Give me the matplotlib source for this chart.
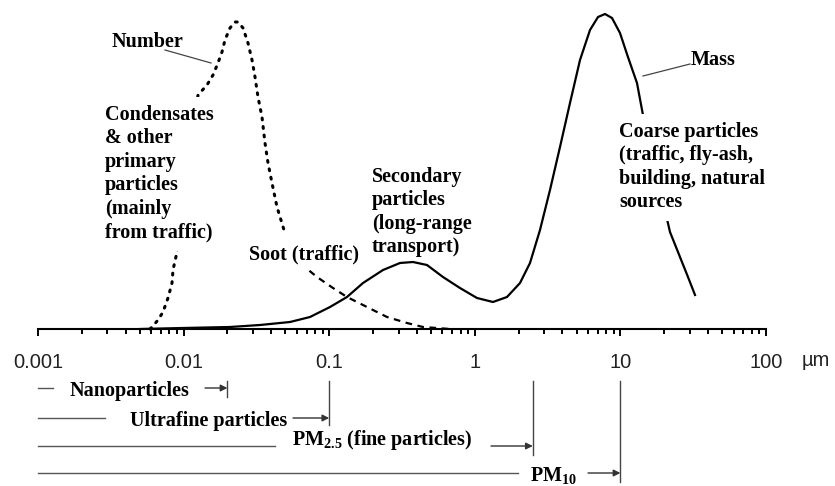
import matplotlib
matplotlib.use('Agg')
import matplotlib.pyplot as plt
import matplotlib.transforms as mtransforms
from matplotlib.lines import Line2D
from matplotlib.ticker import LogLocator, FixedLocator, FixedFormatter, NullFormatter

# Mass distribution (solid line): particle diameter (um) and relative height
mass_d = [0.00502, 0.00991, 0.0208, 0.0335, 0.0538, 0.0738, 0.1013, 0.1325, 0.1707, 0.2342,
          0.3063, 0.3762, 0.4694, 0.6046, 0.791, 1.035, 1.333, 1.664, 2.044, 2.394,
          2.804, 3.284, 3.847, 4.506, 5.279, 6.183, 7.018, 7.841, 8.757, 9.936,
          11.27, 13.00, 14.29, 21.91, 25.66, 29.12, 32.54]
mass_h = [0, 1, 2, 4, 7, 12, 22, 32, 46, 59,
          66, 67, 64, 52, 41, 31, 27, 32, 46, 66,
          99, 139, 182, 226, 269, 299, 312, 315, 311, 296,
          272, 246, 214, 97, 72, 52, 34]

# Number distribution, dotted part (up to the soot label)
num_dot_d = [0.005878, 0.006067, 0.006672, 0.007219, 0.007811, 0.008324, 0.008458, 0.009010,
             0.01256, 0.01448, 0.01592, 0.01722, 0.01835, 0.01924, 0.02083, 0.02254,
             0.02363, 0.02559, 0.02769, 0.02950, 0.03094, 0.03243, 0.03455, 0.03623,
             0.03800, 0.04047, 0.04381, 0.04893]
num_dot_h = [0, 2, 9, 17, 31, 46, 59, 77,
             234, 244, 254, 266, 277, 289, 301, 307,
             307, 301, 286, 269, 252, 232, 212, 186,
             166, 146, 122, 99]

# Number distribution, dashed tail (after the soot label)
num_dash_d = [0.06302, 0.08245, 0.1062, 0.1325, 0.1818, 0.2495, 0.3422, 0.4407, 0.6757]
num_dash_h = [66, 52, 41, 32, 22, 12, 6, 2, 0]

tick_values = [0.001, 0.01, 0.1, 1, 10, 100]
tick_labels = ['0.001', '0.01', '0.1', '1', '10', '100']

size_classes = ['Nanoparticles', 'Ultrafine particles',
                'PM$_{2.5}$ (fine particles)', 'PM$_{10}$']
size_cutoffs = [0.02, 0.1, 2.5, 10]

W, H = 835, 486
SERIF = dict(family='Liberation Serif', fontweight='bold', fontsize=14.5, color='black')

plt.rcParams['mathtext.default'] = 'regular'

fig = plt.figure(figsize=(W / 100, H / 100), dpi=100)
fig.patch.set_facecolor('white')

ax = fig.add_axes([38 / W, (H - 329) / H, 728 / W, 329 / H])
ax.set_xscale('log')
ax.set_xlim(0.001, 100)
ax.set_ylim(0, 329)
for s in ('top', 'left', 'right'):
    ax.spines[s].set_visible(False)
ax.spines['bottom'].set_linewidth(1.5)
ax.set_yticks([])
ax.patch.set_alpha(0)

ax.xaxis.set_major_locator(FixedLocator(tick_values))
ax.xaxis.set_major_formatter(FixedFormatter(tick_labels))
ax.xaxis.set_minor_locator(LogLocator(base=10, subs=range(2, 10), numticks=20))
ax.xaxis.set_minor_formatter(NullFormatter())
ax.tick_params(axis='x', which='major', direction='out', length=5, width=1.4,
               pad=12, labelsize=14.5, labelcolor='#222')
ax.tick_params(axis='x', which='minor', direction='out', length=3.5, width=1.4)
for lbl in ax.get_xticklabels():
    lbl.set_family('Liberation Sans')

# curves
ax.plot(mass_d, mass_h, color='black', lw=1.6, clip_on=False, zorder=2,
        solid_joinstyle='round')
ax.plot(num_dot_d, num_dot_h, color='black', lw=2.2, linestyle=(0, (0.6, 2.2)),
        dash_capstyle='round', clip_on=False, zorder=2)
ax.plot(num_dash_d, num_dash_h, color='black', lw=1.6, linestyle=(0, (3, 2.5)),
        clip_on=False, zorder=2)

# pixel coordinates (from top-left) for annotation layout
T = mtransforms.Affine2D().scale(1 / W, -1 / H).translate(0, 1) + fig.transFigure
BL = mtransforms.blended_transform_factory(ax.transData, T)


def label(x, y, s, **kw):
    opts = dict(SERIF)
    opts.update(kw)
    fig.text(x, y, s, transform=T, zorder=5, **opts)


def leader(x0, y0, x1, y1):
    fig.add_artist(Line2D([x0, x1], [y0, y1], transform=T, color='#444', lw=0.9, zorder=4))


label(112, 47, 'Number', va='baseline')
leader(165, 50, 211, 63)
label(105, 105, 'Condensates\n& other\nprimary\nparticles\n(mainly\nfrom traffic)',
      va='top', linespacing=1.23,
      bbox=dict(facecolor='white', edgecolor='none', pad=6))
label(249, 259, 'Soot (traffic)', va='baseline',
      bbox=dict(facecolor='white', edgecolor='none', pad=4))
label(372, 167, 'Secondary\nparticles\n(long-range\ntransport)', va='top',
      linespacing=1.23)
label(691, 65, 'Mass', va='baseline')
leader(643, 76, 690, 64)
label(619, 122, 'Coarse particles\n(traffic, fly-ash,\nbuilding, natural\nsources',
      va='top', linespacing=1.23,
      bbox=dict(facecolor='white', edgecolor='none', pad=6))

fig.text(802, 366, 'µm', transform=T, family='Liberation Sans', fontsize=14.5,
         color='#222', va='baseline')

# size class brackets under the axis
row_y = [388, 418, 446, 473]
seg_end = [53, 105, 275, 518]
text_x = [70, 130, 292, 530]
text_dy = [0, 0, -6, 0]
arrow_x = [205, 293, 491, 588]
vline_bottom = [397, 425, 455, 482]

for name, cut, y, se, tx, dy, axx, vb in zip(size_classes, size_cutoffs, row_y, seg_end,
                                               text_x, text_dy, arrow_x, vline_bottom):
    fig.add_artist(Line2D([38, se], [y, y], transform=T, color='#555', lw=1.0))
    label(tx, y + dy, name, va='center_baseline' if dy == 0 else 'center')
    ax.annotate('', xy=(cut, y), xycoords=BL, xytext=(axx, y), textcoords=T,
                arrowprops=dict(arrowstyle='-|>', mutation_scale=10, lw=1.0,
                                color='#333', shrinkA=0, shrinkB=0),
                annotation_clip=False)
    ax.plot([cut, cut], [381, vb], transform=BL, color='#444', lw=1.0, clip_on=False)

fig.savefig('out.png', dpi=100)
